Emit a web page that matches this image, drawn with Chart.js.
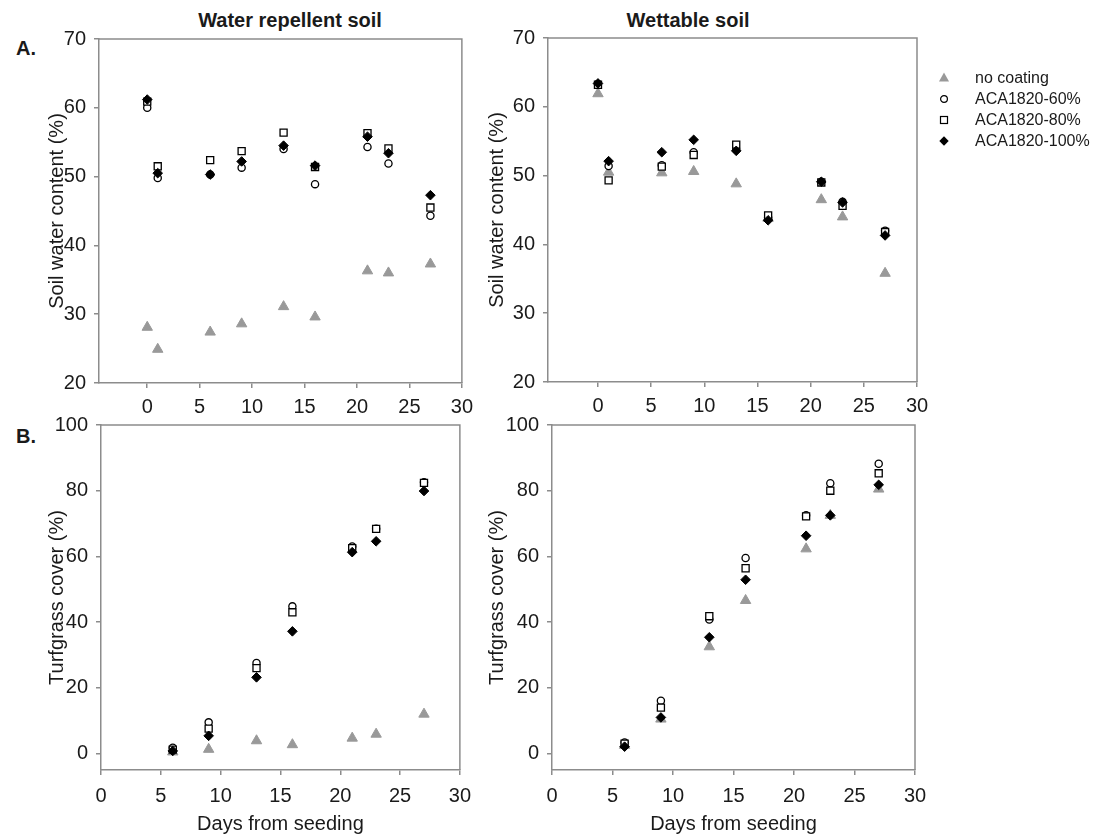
<!DOCTYPE html>
<html>
<head>
<meta charset="utf-8">
<script src="https://cdn.jsdelivr.net/npm/chart.js@4.4.1/dist/chart.umd.min.js"></script>
<style>
  body { margin: 0; background: #fff; font-family: "Liberation Sans", Arial, sans-serif; color: #1a1a1a; }
  #page { position: relative; width: 1108px; height: 836px; overflow: hidden; }
  .panel { position: absolute; }
  .lbl { position: absolute; font-size: 20px; line-height: 20px; white-space: nowrap; }
  .bold { font-weight: bold; }
  .center { text-align: center; width: 300px; }
  #legend { position: absolute; left: 936px; top: 67px; font-size: 16px; }
  #legend div { height: 21px; line-height: 21px; display: flex; align-items: center; white-space: nowrap; }
  #legend svg { width: 16px; height: 16px; margin-right: 23px; }
</style>
</head>
<body>
<div id="page">
  <div class="lbl bold center" style="left:140px; top:10px;">Water repellent soil</div>
  <div class="lbl bold center" style="left:538px; top:10px;">Wettable soil</div>
  <div class="lbl bold" style="left:16px; top:38px;">A.</div>
  <div class="lbl bold" style="left:16px; top:426px;">B.</div>

  <canvas class="panel" id="swcRepellent" width="480" height="430" style="left:0; top:0;"></canvas>
  <canvas class="panel" id="swcWettable" width="470" height="430" style="left:470px; top:0;"></canvas>
  <canvas class="panel" id="coverRepellent" width="480" height="436" style="left:0; top:400px;"></canvas>
  <canvas class="panel" id="coverWettable" width="470" height="436" style="left:470px; top:400px;"></canvas>

  <div id="legend">
    <div><svg viewBox="0 0 16 16"><polygon points="8,2.5 13,11.5 3,11.5" fill="#999"/></svg>no coating</div>
    <div><svg viewBox="0 0 16 16"><circle cx="8" cy="8" r="3.4" fill="#fff" stroke="#000" stroke-width="1.2"/></svg>ACA1820-60%</div>
    <div><svg viewBox="0 0 16 16"><rect x="4.5" y="4.5" width="7" height="7" fill="#fff" stroke="#000" stroke-width="1.2"/></svg>ACA1820-80%</div>
    <div><svg viewBox="0 0 16 16"><polygon points="8,3.3 12.7,8 8,12.7 3.3,8" fill="#000"/></svg>ACA1820-100%</div>
  </div>
</div>

<script>
// days of measurement
const daysSwc = [0, 1, 6, 9, 13, 16, 21, 23, 27];
const daysCover = [6, 9, 13, 16, 21, 23, 27];

// tick labels
const dayTicks = [0, 5, 10, 15, 20, 25, 30];
const swcTicks = [20, 30, 40, 50, 60, 70];
const coverTicks = [0, 20, 40, 60, 80, 100];

const seriesNames = ["no coating", "ACA1820-60%", "ACA1820-80%", "ACA1820-100%"];

// A. soil water content (%), water repellent soil
const repSwcNone = [28.1, 24.9, 27.4, 28.6, 31.1, 29.6, 36.3, 36.0, 37.3];
const repSwc60 = [60.0, 49.8, 50.3, 51.3, 54.0, 48.9, 54.3, 51.9, 44.3];
const repSwc80 = [60.9, 51.5, 52.4, 53.7, 56.4, 51.4, 56.3, 54.1, 45.5];
const repSwc100 = [61.2, 50.5, 50.3, 52.2, 54.5, 51.6, 55.8, 53.4, 47.3];

// A. soil water content (%), wettable soil
const wetSwcNone = [61.9, 50.5, 50.4, 50.6, 48.8, 43.8, 46.5, 44.0, 35.8];
const wetSwc60 = [63.3, 51.4, 51.5, 53.4, 53.8, 43.9, 49.1, 46.2, 42.0];
const wetSwc80 = [63.2, 49.3, 51.3, 53.0, 54.5, 44.2, 49.0, 45.6, 41.8];
const wetSwc100 = [63.4, 52.1, 53.4, 55.2, 53.6, 43.5, 49.1, 46.1, 41.3];

// B. turfgrass cover (%), water repellent soil
const repCoverNone = [0.5, 1.3, 3.9, 2.7, 4.7, 5.9, 12.0];
const repCover60 = [1.8, 9.5, 27.6, 44.8, 63.0, 68.4, 82.6];
const repCover80 = [1.2, 7.6, 26.0, 43.0, 62.5, 68.4, 82.4];
const repCover100 = [0.8, 5.4, 23.2, 37.2, 61.3, 64.6, 79.9];

// B. turfgrass cover (%), wettable soil
const wetCoverNone = [2.5, 10.5, 32.5, 46.6, 62.3, 72.5, 80.5];
const wetCover60 = [3.4, 16.1, 40.8, 59.5, 72.5, 82.3, 88.2];
const wetCover80 = [3.0, 14.0, 41.8, 56.4, 72.2, 80.0, 85.3];
const wetCover100 = [2.1, 11.0, 35.4, 52.9, 66.3, 72.5, 81.8];

Chart.defaults.font.family = '"Liberation Sans", Arial, sans-serif';
Chart.defaults.color = "#1a1a1a";

const axisGray = "#8c8c8c";
const markers = [
  { style: "triangle", radius: 6, bg: "#999999", border: "#999999", width: 1 },
  { style: "circle", radius: 3.6, bg: "#ffffff", border: "#000000", width: 1.3 },
  { style: "rect", radius: 5, bg: "#ffffff", border: "#000000", width: 1.3 },
  { style: "rectRot", radius: 4.8, bg: "#000000", border: "#000000", width: 1 }
];

// top and right sides of the plot box
const framePlugin = {
  id: "frame",
  beforeDatasetsDraw: function (chart) {
    const ctx = chart.ctx;
    const a = chart.chartArea;
    ctx.save();
    ctx.strokeStyle = axisGray;
    ctx.lineWidth = 1.5;
    ctx.beginPath();
    ctx.moveTo(a.left, a.top);
    ctx.lineTo(a.right, a.top);
    ctx.lineTo(a.right, a.bottom);
    ctx.stroke();
    ctx.restore();
  }
};

function makeDatasets(days, seriesList) {
  return seriesList.map(function (values, i) {
    const m = markers[i];
    return {
      label: seriesNames[i],
      data: values.map(function (v, j) { return { x: days[j], y: v }; }),
      pointStyle: m.style,
      pointRadius: m.radius,
      backgroundColor: m.bg,
      borderColor: m.border,
      borderWidth: m.width,
      order: 4 - i
    };
  });
}

function makeChart(id, cfg) {
  return new Chart(document.getElementById(id), {
    type: "scatter",
    data: { datasets: makeDatasets(cfg.days, cfg.series) },
    options: {
      responsive: false,
      animation: false,
      events: [],
      layout: { padding: cfg.pad },
      plugins: { legend: { display: false }, tooltip: { enabled: false } },
      scales: {
        x: {
          type: "linear",
          min: cfg.xMin,
          max: 30,
          afterBuildTicks: function (s) { s.ticks = dayTicks.map(function (v) { return { value: v }; }); },
          afterFit: function (s) { s.height = cfg.xHeight; },
          grid: { drawOnChartArea: false, tickLength: 5, color: axisGray, lineWidth: 1.5 },
          border: { color: axisGray, width: 1.5 },
          ticks: { font: { size: 20 }, padding: cfg.xPad, maxRotation: 0 },
          title: {
            display: cfg.xTitle,
            text: "Days from seeding",
            font: { size: 20 },
            padding: { top: 0, bottom: 0 }
          }
        },
        y: {
          type: "linear",
          min: cfg.yMin,
          max: cfg.yMax,
          afterBuildTicks: function (s) { s.ticks = cfg.yTicks.map(function (v) { return { value: v }; }); },
          afterFit: function (s) { s.width = cfg.yWidth; },
          grid: { drawOnChartArea: false, tickLength: 5, color: axisGray, lineWidth: 1.5 },
          border: { color: axisGray, width: 1.5 },
          ticks: { font: { size: 20 }, padding: 8 },
          title: {
            display: true,
            text: cfg.yTitle,
            font: { size: 20 },
            padding: { top: 9, bottom: 0 }
          }
        }
      }
    },
    plugins: [framePlugin]
  });
}

makeChart("swcRepellent", {
  days: daysSwc, series: [repSwcNone, repSwc60, repSwc80, repSwc100],
  xMin: -4.6, yMin: 20, yMax: 70, yTicks: swcTicks,
  yTitle: "Soil water content (%)", xTitle: false,
  pad: { left: 36, top: 39, right: 18, bottom: 7 }, yWidth: 63, xHeight: 40, xPad: 7
});

makeChart("swcWettable", {
  days: daysSwc, series: [wetSwcNone, wetSwc60, wetSwc80, wetSwc100],
  xMin: -4.7, yMin: 20, yMax: 70, yTicks: swcTicks,
  yTitle: "Soil water content (%)", xTitle: false,
  pad: { left: 6, top: 38, right: 23, bottom: 8 }, yWidth: 72, xHeight: 40, xPad: 7
});

makeChart("coverRepellent", {
  days: daysCover, series: [repCoverNone, repCover60, repCover80, repCover100],
  xMin: 0, yMin: -5, yMax: 100, yTicks: coverTicks,
  yTitle: "Turfgrass cover (%)", xTitle: true,
  pad: { left: 36, top: 25, right: 18, bottom: 0 }, yWidth: 65, xHeight: 66, xPad: 9
});

makeChart("coverWettable", {
  days: daysCover, series: [wetCoverNone, wetCover60, wetCover80, wetCover100],
  xMin: 0, yMin: -5, yMax: 100, yTicks: coverTicks,
  yTitle: "Turfgrass cover (%)", xTitle: true,
  pad: { left: 6, top: 25, right: 25, bottom: 0 }, yWidth: 76, xHeight: 66, xPad: 9
});
</script>
</body>
</html>
